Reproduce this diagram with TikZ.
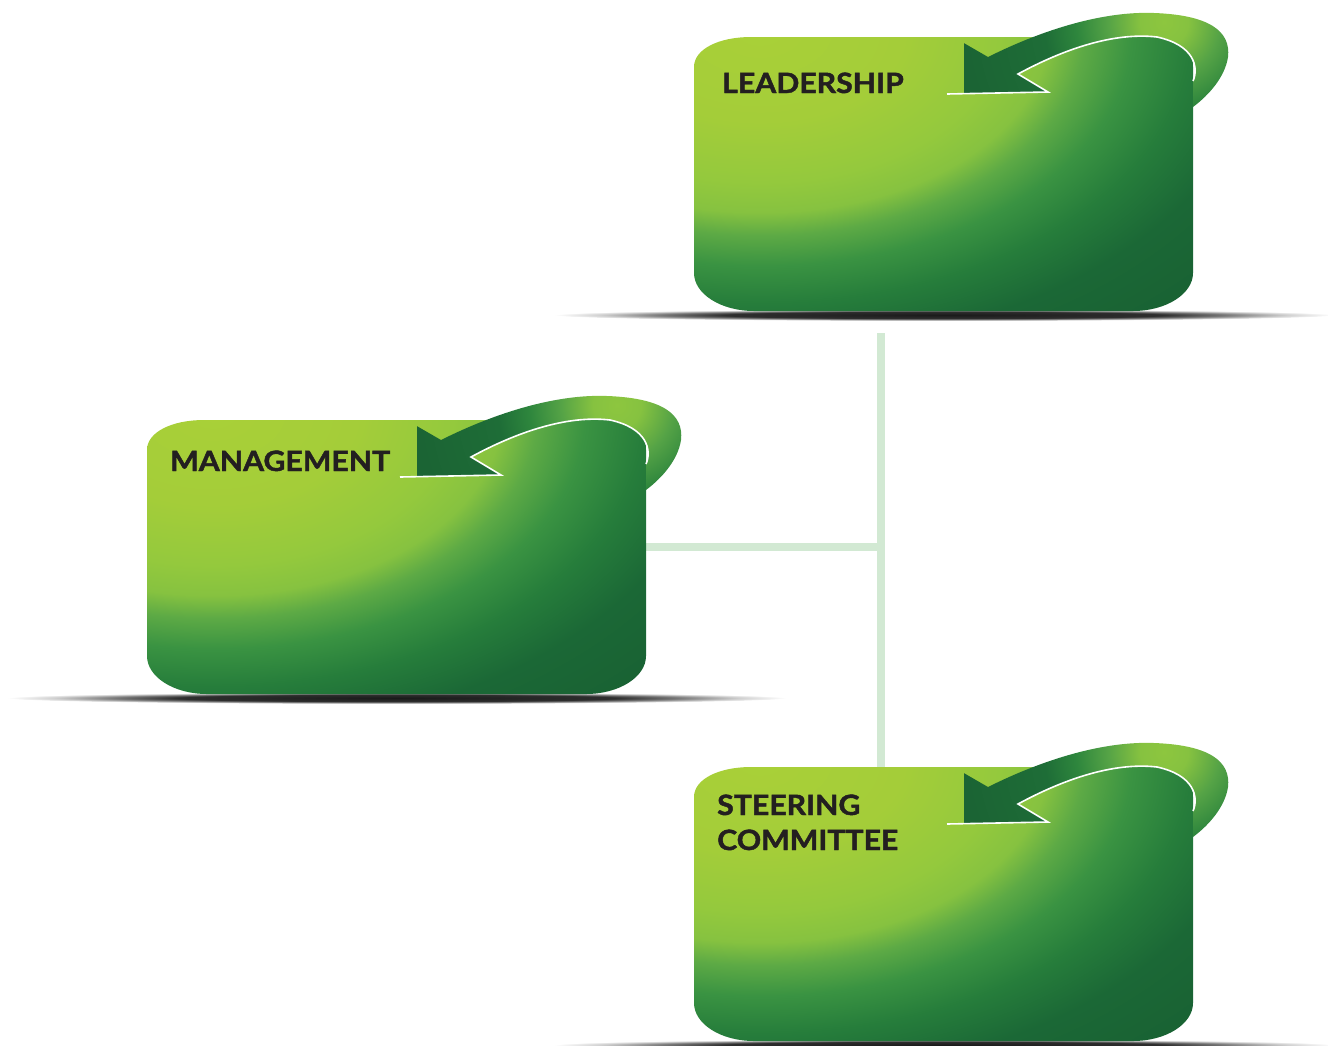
\documentclass[tikz,border=0pt]{standalone}
\usepackage{fontspec}
\setmainfont{Lato}[BoldFeatures={FakeStretch=1.08, FakeBold=1.6}]
\usepackage{tikz}
\usetikzlibrary{positioning}

\definecolor{labelgray}{HTML}{231F20}
\definecolor{linkgreen}{HTML}{D2E9D3}
\definecolor{boxA}{HTML}{A9D038}
\definecolor{boxB}{HTML}{A4CD39}
\definecolor{boxC}{HTML}{94C93D}
\definecolor{boxD}{HTML}{86C240}
\definecolor{boxE}{HTML}{5DAA45}
\definecolor{boxF}{HTML}{3A9342}
\definecolor{boxG}{HTML}{267D3B}
\definecolor{boxH}{HTML}{1B6836}
\definecolor{boxI}{HTML}{196233}
\definecolor{bandA}{HTML}{8DC63F}
\definecolor{bandB}{HTML}{86C240}
\definecolor{bandC}{HTML}{55A346}
\definecolor{bandD}{HTML}{2E863D}
\definecolor{bandE}{HTML}{1E6D37}
\definecolor{bandF}{HTML}{1B6434}
\definecolor{shadowA}{HTML}{1A1A1A}
\definecolor{shadowB}{HTML}{2E2E2E}
\definecolor{shadowC}{HTML}{777777}
\definecolor{shadowD}{HTML}{D0D0D0}

\pgfdeclareradialshading{boxshade}{\pgfpoint{0bp}{0bp}}{color(0bp)=(boxA); color(6bp)=(boxB); color(10bp)=(boxC); color(12bp)=(boxD); color(13.5bp)=(boxE); color(15.5bp)=(boxF); color(18bp)=(boxG); color(21bp)=(boxH); color(25bp)=(boxI); color(50bp)=(boxI)}
\pgfdeclareradialshading{bandshade}{\pgfpoint{0bp}{0bp}}{color(0bp)=(bandA); color(3bp)=(bandB); color(7bp)=(bandC); color(11bp)=(bandD); color(15bp)=(bandE); color(25bp)=(bandF); color(50bp)=(bandF)}
\pgfdeclareradialshading{groundshade}{\pgfpoint{0bp}{0bp}}{color(0bp)=(shadowA); color(14bp)=(shadowB); color(18bp)=(shadowC); color(22bp)=(shadowD); color(25bp)=(white); color(50bp)=(white)}

\tikzstyle{boxnode} = [rectangle, minimum width=499pt, minimum height=274pt, inner sep=0pt, outer sep=0pt]
\tikzstyle{link} = [draw=linkgreen, line width=8pt]
\tikzstyle{highlight} = [draw=white, line width=1.6pt, line join=miter]
\tikzstyle{boxlabel} = [font=\bfseries\fontsize{28}{35}\selectfont, text=labelgray, inner sep=0pt, anchor=base west, align=left]

% #1 node, #2 #3 label position (last baseline), #4 label
\newcommand{\greenbox}[4]{%
  \begin{scope}[shift={(#1.north west)}]
    \shade[shading=groundshade] (250,278) ellipse (390 and 6);
    \begin{scope}
      \clip (57,0) -- (470,0) .. controls (490,0) and (499,10) .. (499,30) -- (499,236) .. controls (499,257) and (472,274) .. (439,274) -- (60,274) .. controls (27,274) and (0,257) .. (0,236) -- (0,30) .. controls (0,12) and (25,0) .. (57,0) -- cycle;
      \shade[shading=boxshade] (-534,-387) rectangle (666,373);
    \end{scope}
    \begin{scope}
      \clip (253,57) -- (268,5) -- (294,20) .. controls (350,-8) and (410,-26) .. (460,-24) .. controls (515,-22) and (537,-6) .. (534,20) .. controls (531,40) and (515,58) .. (499,70) -- (499,44) .. controls (505,30) and (500,8) .. (463,0) .. controls (420,-5) and (370,12) .. (324,37) -- (354,55) -- cycle;
      \shade[shading=bandshade] (270,-215) rectangle (670,185);
    \end{scope}
    \draw[highlight] (253,57) -- (354,55) -- (324,37) .. controls (370,12) and (420,-5) .. (463,0) .. controls (500,8) and (505,30) .. (499,44);
    \node (#1label) [boxlabel] at (#2,#3) {#4};
  \end{scope}}

\begin{document}
\begin{tikzpicture}[x=1pt, y=-1pt]
\useasboundingbox (0,0) rectangle (1328,1045);
\node (leadership) [boxnode] at (943.5,174) {};
\node (management) [boxnode] at (396.5,557) {};
\node (steering) [boxnode] at (943.5,904) {};
\coordinate (stem) at (881,333);
\coordinate (junction) at (881,547);
\draw [link] (stem) -- (stem |- steering.north);
\draw [link] (management.east |- junction) -- (junction);
\greenbox{leadership}{28}{56}{LEADERSHIP}
\greenbox{management}{23}{51}{MANAGEMENT}
\greenbox{steering}{23}{83}{STEERING\\COMMITTEE}
\end{tikzpicture}
\end{document}
